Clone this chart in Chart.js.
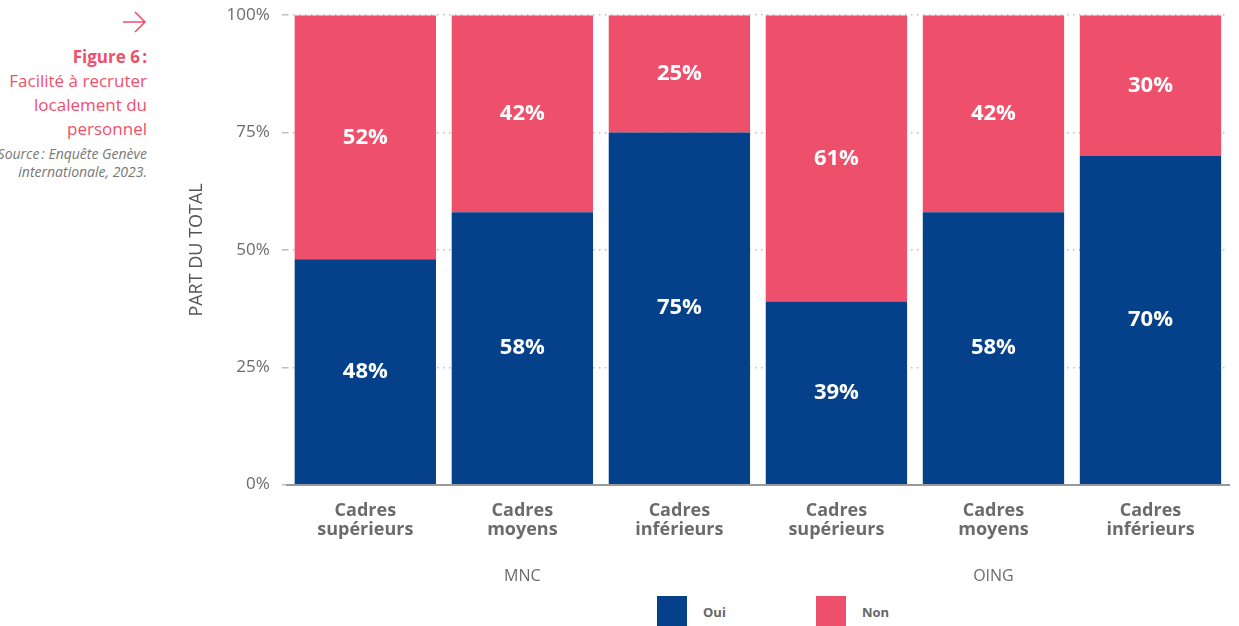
<!DOCTYPE html>
<html>
<head>
<meta charset="utf-8">
<script src="https://cdn.jsdelivr.net/npm/chart.js@4"></script>
<style>
  body { margin: 0; width: 1239px; height: 626px; overflow: hidden; background: #fff; font-family: "Open Sans", sans-serif; position: relative; }
  #side { position: absolute; right: 1092px; top: 0; text-align: right; white-space: nowrap; }
  #side svg { position: absolute; right: 0; top: 11px; }
  #side .fig { position: absolute; right: 0; top: 45px; color: #ee506c; font-size: 17px; line-height: 24px; }
  #side .fig b { font-weight: 700; }
  #side .src { position: absolute; right: 0; top: 145px; color: #777; font-size: 14px; line-height: 18px; font-style: italic; }
  #wrap { position: absolute; left: 170px; top: -7px; width: 1069px; height: 603px; }
  #legend { position: absolute; top: 596px; left: 0; width: 1239px; height: 30px; }
  .lg { position: absolute; top: 1px; display: flex; align-items: center; height: 30px; font-size: 13px; font-weight: 700; color: #666; }
  .lg span.box { width: 30px; height: 30px; display: inline-block; margin-right: 16px; position: relative; top: -1px; }
</style>
</head>
<body>
<div id="side">
  <svg width="25" height="22" viewBox="0 0 25 22"><path d="M1 11 H23 M13 1 L23 11 L13 21" fill="none" stroke="#ee506c" stroke-width="1.6"/></svg>
  <div class="fig"><b>Figure 6&#8239;:</b><br>Facilité à recruter<br>localement du<br>personnel</div>
  <div class="src">Source&#8239;: Enquête Genève<br>internationale, 2023.</div>
</div>
<div id="wrap"><canvas id="myChart"></canvas></div>
<div id="legend"></div>
<script>
const Chart = window.Chart;

// data
const categories = [
  ['Cadres', 'supérieurs'], ['Cadres', 'moyens'], ['Cadres', 'inférieurs'],
  ['Cadres', 'supérieurs'], ['Cadres', 'moyens'], ['Cadres', 'inférieurs']
];
const groups = ['MNC', 'OING'];
const ouiValues = [48, 58, 75, 39, 58, 70];
const nonValues = [52, 42, 25, 61, 42, 30];
const yTicks = [0, 25, 50, 75, 100];

const BLUE = '#05418a';
const PINK = '#ee506c';
const GREY = '#6b6b6b';
const FONT = '"Open Sans", sans-serif';

// white labels in the middle of each segment
const segLabels = {
  id: 'segLabels',
  afterDatasetsDraw(chart) {
    const ctx = chart.ctx;
    ctx.save();
    ctx.fillStyle = '#fff';
    ctx.font = '700 22px ' + FONT;
    ctx.textAlign = 'center';
    ctx.textBaseline = 'middle';
    chart.data.datasets.forEach((ds, i) => {
      chart.getDatasetMeta(i).data.forEach((bar, j) => {
        const mid = (bar.y + bar.base) / 2;
        ctx.fillText(ds.data[j] + '%', bar.x, mid);
      });
    });
    ctx.restore();
  }
};

function initChart(target) {
  return new Chart(target, {
    type: 'bar',
    data: {
      labels: categories,
      datasets: [
        { label: 'Oui', data: ouiValues, backgroundColor: BLUE, xAxisID: 'x' },
        { label: 'Non', data: nonValues, backgroundColor: PINK, xAxisID: 'x' }
      ]
    },
    options: {
      responsive: true,
      maintainAspectRatio: false,
      animation: false,
      layout: { padding: { top: 0, right: 10, bottom: 0, left: 9 } },
      datasets: { bar: { barPercentage: 0.9, categoryPercentage: 1 } },
      plugins: { legend: { display: false }, tooltip: { enabled: false } },
      scales: {
        x: {
          stacked: true,
          grid: { display: false },
          border: { display: true, color: '#9a9a9a', width: 2 },
          ticks: { color: GREY, font: { family: FONT, size: 18, weight: '700', lineHeight: 1.06 }, padding: 9, maxRotation: 0 }
        },
        x2: {
          type: 'category',
          labels: groups,
          position: 'bottom',
          grid: { display: false },
          border: { display: false },
          ticks: { color: GREY, font: { family: FONT, size: 16 }, padding: 10 }
        },
        y: {
          stacked: true,
          min: 0,
          max: 100,
          afterBuildTicks(axis) { axis.ticks = yTicks.map(v => ({ value: v })); },
          grid: { color: '#bdbdbd', lineWidth: 1.5, tickLength: 5, drawOnChartArea: true },
          border: { display: false, dash: [1.5, 4.5] },
          ticks: { color: GREY, font: { family: FONT, size: 17 }, padding: 12, callback: v => v + '%' },
          title: { display: true, text: 'PART DU TOTAL', color: '#555', font: { family: FONT, size: 18 }, padding: 7 }
        }
      }
    },
    plugins: [segLabels]
  });
}

function buildLegend() {
  const el = document.querySelector('#legend');
  const items = [['Oui', BLUE, 657], ['Non', PINK, 816]];
  items.forEach(([txt, col, left]) => {
    const d = document.createElement('div');
    d.className = 'lg';
    d.style.left = left + 'px';
    d.innerHTML = '<span class="box" style="background:' + col + '"></span>' + txt;
    el.appendChild(d);
  });
}

document.addEventListener('DOMContentLoaded', () => {
  initChart(document.querySelector('#myChart'));
  buildLegend();
});
</script>
</body>
</html>
